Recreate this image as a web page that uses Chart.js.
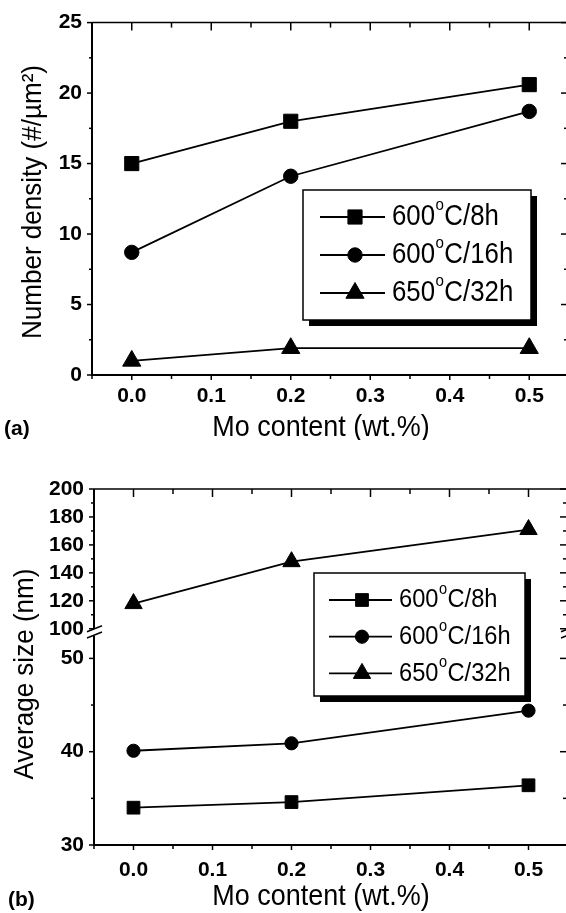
<!DOCTYPE html>
<html>
<head>
<meta charset="utf-8">
<title>Mo content vs. precipitate density and size</title>
<script src="https://cdn.jsdelivr.net/npm/chart.js@4.4.1/dist/chart.umd.min.js"></script>
<style>
  html, body { margin: 0; padding: 0; background: #fff; overflow: hidden; }
  body { width: 566px; height: 913px; position: relative; }
  canvas { position: absolute; left: 0; }
  #densityChart { top: 0; }
  #sizeChart { top: 460px; }
</style>
</head>
<body>
<canvas id="densityChart" width="600" height="440"></canvas>
<canvas id="sizeChart" width="600" height="453"></canvas>
<script>
// Mo content of the alloys (wt.%)
const moContent = [0.0, 0.2, 0.5];
const treatments = ["600°C/8h", "600°C/16h", "650°C/32h"];

// number density (#/µm²)
const density8h = [15.0, 18.0, 20.6];
const density16h = [8.7, 14.1, 18.7];
const density32h = [1.0, 1.9, 1.9];

// average size (nm)
const size8h = [34.0, 34.6, 36.4];
const size16h = [40.1, 40.9, 44.4];
const size32h = [118, 148, 171];

// tick values
const moTicks = [0.0, 0.1, 0.2, 0.3, 0.4, 0.5];
const densityTicks = [0, 5, 10, 15, 20, 25];
const sizeTicksLow = [30, 40, 50];
const sizeTicksHigh = [100, 120, 140, 160, 180, 200];

const INK = "#000";
const FONT = "'Liberation Sans', Arial, Helvetica, sans-serif";
const tickFont = { family: FONT, size: 21, weight: "bold" };

// half-step ticks between (and just outside) the labelled ones
const minorTicks = (majors, min, max) => {
    const step = majors[1] - majors[0];
    const out = [];
    for (let v = majors[0] - step / 2; v <= max + 1e-9; v += step) {
        if (v >= min - 1e-9) out.push(+v.toFixed(6));
    }
    return out;
};

const strokeLine = (ctx, x1, y1, x2, y2) => {
    ctx.beginPath();
    ctx.moveTo(x1, y1);
    ctx.lineTo(x2, y2);
    ctx.stroke();
};

// Boxed axes: out-ticks on bottom/left, in-ticks on top/right, optional axis break
const originAxes = {
    id: "originAxes",
    beforeDatasetsDraw(chart, args, opts) {
        const { ctx, chartArea: a, scales } = chart;
        const x = scales.x;
        ctx.save();
        ctx.strokeStyle = INK;
        ctx.lineWidth = 1.5;

        moTicks.forEach((v) => {
            const px = x.getPixelForValue(v);
            strokeLine(ctx, px, a.bottom, px, a.bottom + 5);
            strokeLine(ctx, px, a.top, px, a.top + 8);
        });
        minorTicks(moTicks, x.min, x.max).forEach((v) => {
            const px = x.getPixelForValue(v);
            strokeLine(ctx, px, a.bottom, px, a.bottom + 4);
            strokeLine(ctx, px, a.top, px, a.top + 5);
        });

        opts.segments.forEach((seg) => {
            const s = scales[seg.id];
            seg.majors.forEach((v) => {
                const py = s.getPixelForValue(v);
                strokeLine(ctx, a.left - 5, py, a.left, py);
                strokeLine(ctx, a.right - 8, py, a.right, py);
            });
            minorTicks(seg.majors, s.min, s.max).forEach((v) => {
                const py = s.getPixelForValue(v);
                strokeLine(ctx, a.left - 3, py, a.left, py);
                strokeLine(ctx, a.right - 5, py, a.right, py);
            });
        });

        // frame
        strokeLine(ctx, a.left, a.top, a.right, a.top);
        ctx.lineWidth = 2;
        strokeLine(ctx, a.left - 1, a.bottom, a.right + 1, a.bottom);
        const sides = [a.left, a.right];
        if (opts.breakAxis) {
            const upper = scales[opts.breakAxis.upper];
            const lower = scales[opts.breakAxis.lower];
            const gapTop = upper.getPixelForValue(opts.breakAxis.upperFrom);
            const gapBottom = lower.top;
            sides.forEach((sx) => {
                ctx.lineWidth = 2;
                strokeLine(ctx, sx, a.top, sx, gapTop);
                strokeLine(ctx, sx, gapBottom, sx, a.bottom);
                ctx.lineWidth = 1.4;
                strokeLine(ctx, sx - 7, gapTop + 3, sx + 8, gapTop - 3);
                strokeLine(ctx, sx - 7, gapBottom + 2, sx + 8, gapBottom - 4);
            });
        } else {
            sides.forEach((sx) => strokeLine(ctx, sx, a.top, sx, a.bottom));
        }
        ctx.restore();
    },
};

// text drawn slightly condensed, like the narrow sans of the plot
const fillNarrow = (ctx, text, x, y, squeeze) => {
    ctx.save();
    ctx.translate(x, y);
    ctx.scale(squeeze, 1);
    ctx.fillText(text, 0, 0);
    ctx.restore();
};

// "600°C/8h" with the degree written as a raised small o
const drawDegreeLabel = (ctx, text, x, y, size, squeeze) => {
    const [pre, post] = text.split("°");
    ctx.save();
    ctx.translate(x, y);
    ctx.scale(squeeze, 1);
    ctx.textAlign = "left";
    ctx.textBaseline = "middle";
    ctx.font = `${size}px ${FONT}`;
    ctx.fillText(pre, 0, 0);
    let cx = ctx.measureText(pre).width + 0.5;
    ctx.font = `${Math.round(size * 0.6)}px ${FONT}`;
    ctx.fillText("o", cx, -size * 0.4);
    cx += ctx.measureText("o").width + 0.5;
    ctx.font = `${size}px ${FONT}`;
    ctx.fillText(post, cx, 0);
    ctx.restore();
};

// framed legend with a drop shadow
const boxLegend = {
    id: "boxLegend",
    afterDatasetsDraw(chart, args, o) {
        const { ctx } = chart;
        ctx.save();
        ctx.fillStyle = INK;
        ctx.fillRect(o.x + o.shadow, o.y + o.shadow, o.w, o.h);
        ctx.fillStyle = "#fff";
        ctx.fillRect(o.x, o.y, o.w, o.h);
        ctx.strokeStyle = INK;
        ctx.lineWidth = 1.5;
        ctx.strokeRect(o.x, o.y, o.w, o.h);
        chart.data.datasets.forEach((ds, i) => {
            const y = o.y + o.firstRow + i * o.rowGap;
            ctx.lineWidth = ds.borderWidth;
            strokeLine(ctx, o.x + o.lineFrom, y, o.x + o.lineTo, y);
            ctx.fillStyle = INK;
            ctx.lineWidth = 1;
            Chart.helpers.drawPoint(ctx, {
                pointStyle: ds.pointStyle,
                radius: ds.pointRadius,
                rotation: 0,
                borderWidth: 1,
            }, o.x + o.markerAt, y);
            drawDegreeLabel(ctx, ds.label, o.x + o.textAt, y, o.fontSize, o.squeeze);
        });
        ctx.restore();
    },
};

// axis titles and the panel tag
const panelText = {
    id: "panelText",
    afterDraw(chart, args, o) {
        const { ctx } = chart;
        ctx.save();
        ctx.fillStyle = INK;
        ctx.textBaseline = "alphabetic";
        ctx.textAlign = "center";
        ctx.font = `29px ${FONT}`;
        fillNarrow(ctx, o.xTitle, o.xTitleX, o.xTitleY, 0.93);

        ctx.textAlign = "left";
        ctx.font = `bold 21px ${FONT}`;
        ctx.fillText(o.tag, o.tagX, o.tagY);

        ctx.translate(o.yTitleX, o.yTitleY);
        ctx.rotate(-Math.PI / 2);
        ctx.textAlign = "center";
        ctx.textBaseline = "middle";
        ctx.font = `28px ${FONT}`;
        fillNarrow(ctx, o.yTitle, 0, 0, 0.93);
        ctx.restore();
    },
};

const toPoints = (ys) => moContent.map((x, i) => ({ x, y: ys[i] }));

const makeDataset = (label, ys, style, radius, axisId) => ({
    label,
    data: toPoints(ys),
    yAxisID: axisId,
    borderColor: INK,
    backgroundColor: INK,
    borderWidth: 1.8,
    pointStyle: style,
    pointRadius: radius,
    pointBackgroundColor: INK,
    pointBorderColor: INK,
    pointBorderWidth: 1,
    tension: 0,
    fill: false,
});

const xAxis = (height, pad) => ({
    type: "linear",
    position: "bottom",
    min: -0.05,
    max: 0.55,
    grid: { display: false, drawTicks: false },
    border: { display: false },
    afterBuildTicks: (s) => { s.ticks = moTicks.map((value) => ({ value })); },
    afterFit: (s) => { s.height = height; },
    ticks: {
        color: INK,
        font: tickFont,
        padding: pad,
        maxRotation: 0,
        autoSkip: false,
        callback: (v) => Number(v).toFixed(1),
    },
});

const yAxis = (min, max, majors, width, extra = {}) => Object.assign({
    type: "linear",
    position: "left",
    min,
    max,
    grid: { display: false, drawTicks: false },
    border: { display: false },
    afterBuildTicks: (s) => { s.ticks = majors.map((value) => ({ value })); },
    afterFit: (s) => { s.width = width; },
    ticks: { color: INK, font: tickFont, padding: 10, autoSkip: false },
}, extra);

const common = {
    responsive: false,
    animation: false,
    events: [],
};

// (a) number density
new Chart(document.getElementById("densityChart"), {
    type: "line",
    data: {
        datasets: [
            makeDataset(treatments[0], density8h, "rect", 10, "y"),
            makeDataset(treatments[1], density16h, "circle", 7.2, "y"),
            makeDataset(treatments[2], density32h, "triangle", 10.5, "y"),
        ],
    },
    options: {
        ...common,
        layout: { padding: { top: 17, right: 31, left: 0, bottom: 0 } },
        scales: {
            x: xAxis(65, 9),
            y: yAxis(0, 25, densityTicks, 92),
        },
        plugins: {
            legend: { display: false },
            tooltip: { enabled: false },
            originAxes: { segments: [{ id: "y", majors: densityTicks }] },
            boxLegend: {
                x: 303, y: 190, w: 228, h: 130, shadow: 6,
                firstRow: 27, rowGap: 38,
                lineFrom: 17, lineTo: 82, markerAt: 52, textAt: 89,
                fontSize: 29, squeeze: 0.89,
            },
            panelText: {
                xTitle: "Mo content (wt.%)", xTitleX: 321, xTitleY: 436,
                yTitle: "Number density (#/µm²)", yTitleX: 33, yTitleY: 202,
                tag: "(a)", tagX: 4, tagY: 435,
            },
        },
    },
    plugins: [originAxes, boxLegend, panelText],
});

// (b) average size, broken y axis: 30-52 below, 100-200 above
new Chart(document.getElementById("sizeChart"), {
    type: "line",
    data: {
        datasets: [
            makeDataset(treatments[0], size8h, "rect", 9, "yLow"),
            makeDataset(treatments[1], size16h, "circle", 6.6, "yLow"),
            makeDataset(treatments[2], size32h, "triangle", 10, "yHigh"),
        ],
    },
    options: {
        ...common,
        layout: { padding: { top: 29, right: 32, left: 0, bottom: 0 } },
        scales: {
            x: xAxis(68, 13),
            yLow: yAxis(30, 52.4, sizeTicksLow, 94, { stack: "size", stackWeight: 209 }),
            yHigh: yAxis(94.8, 200, sizeTicksHigh, 94, { stack: "size", stackWeight: 147 }),
        },
        plugins: {
            legend: { display: false },
            tooltip: { enabled: false },
            originAxes: {
                segments: [
                    { id: "yHigh", majors: sizeTicksHigh },
                    { id: "yLow", majors: sizeTicksLow },
                ],
                breakAxis: { upper: "yHigh", lower: "yLow", upperFrom: 100 },
            },
            boxLegend: {
                x: 314, y: 113, w: 211, h: 123, shadow: 6,
                firstRow: 27, rowGap: 36.7,
                lineFrom: 15, lineTo: 78, markerAt: 48, textAt: 85,
                fontSize: 26, squeeze: 0.91,
            },
            panelText: {
                xTitle: "Mo content (wt.%)", xTitleX: 321, xTitleY: 445,
                yTitle: "Average size (nm)", yTitleX: 25, yTitleY: 214,
                tag: "(b)", tagX: 8, tagY: 446,
            },
        },
    },
    plugins: [originAxes, boxLegend, panelText],
});
</script>
</body>
</html>
